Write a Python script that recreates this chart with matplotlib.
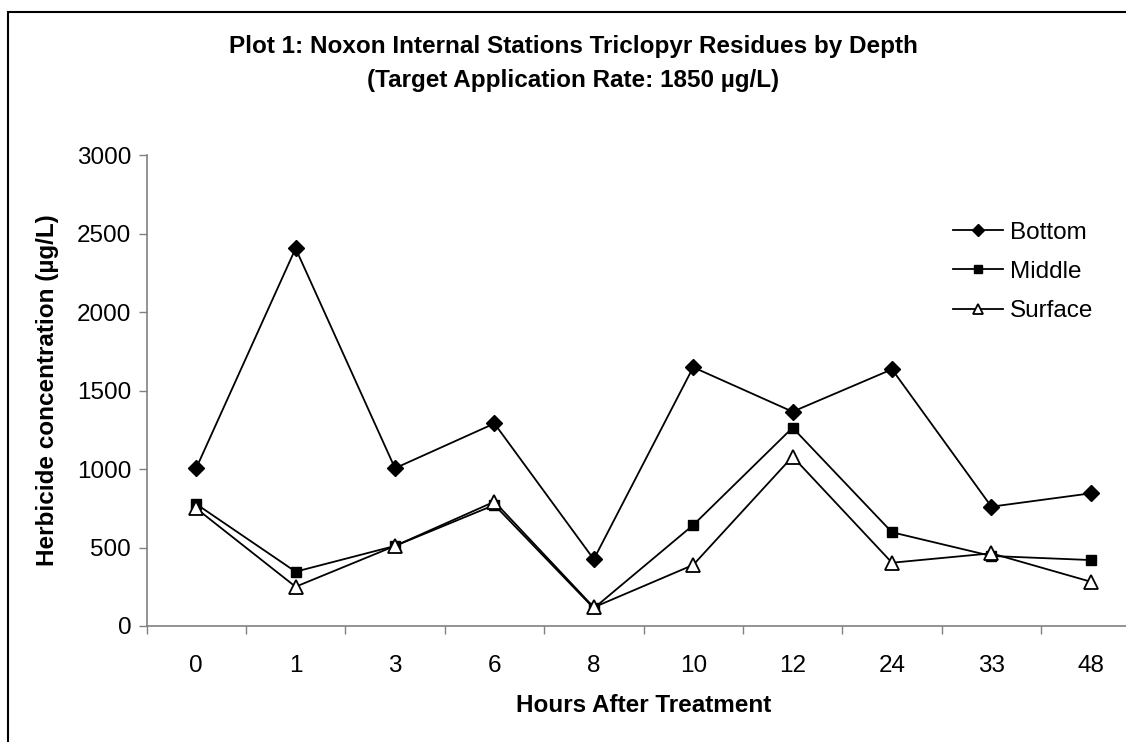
import matplotlib
matplotlib.use("Agg")
import matplotlib.pyplot as plt
import matplotlib.patches as patches
import numpy as np

# data
hours = ["0", "1", "3", "6", "8", "10", "12", "24", "33", "48"]
bottom = [1005, 2405, 1005, 1290, 425, 1648, 1365, 1635, 760, 845]
middle = [777, 346, 510, 771, 113, 643, 1263, 597, 446, 420]
surface = [749, 250, 510, 792, 119, 389, 1079, 403, 463, 282]
yticks = [0, 500, 1000, 1500, 2000, 2500, 3000]

W, H = 1126, 742
plt.rcParams["font.family"] = ["Liberation Sans", "DejaVu Sans"]
FS = 17.5

fig = plt.figure(figsize=(W / 100, H / 100), dpi=100)

# plot area runs past the right edge, like the cropped original
left, right, top, bot = 146.5, 1140.5, 155, 626
ax = fig.add_axes([left / W, 1 - bot / H, (right - left) / W, (bot - top) / H])

x = np.arange(len(hours))
ax.plot(x, bottom, color="black", lw=1.3, marker="D", ms=8,
        mfc="black", mec="black", label="Bottom", clip_on=False)
ax.plot(x, middle, color="black", lw=1.3, marker="s", ms=7.5,
        mfc="black", mec="black", label="Middle", clip_on=False)
ax.plot(x, surface, color="black", lw=1.3, marker="^", ms=9.5,
        mfc="white", mec="black", mew=1.3, label="Surface", clip_on=False)

ax.set_xlim(-0.5, len(hours) - 0.5)
ax.set_ylim(0, 3000)
ax.set_yticks(yticks)
ax.set_xticks(x)
ax.set_xticklabels(hours)
ax.set_xticks(np.arange(-0.5, len(hours) + 0.5, 1), minor=True)

for s in ["top", "right"]:
    ax.spines[s].set_visible(False)
for s in ["left", "bottom"]:
    ax.spines[s].set_color("#808080")
    ax.spines[s].set_linewidth(1.2)

ax.tick_params(axis="y", direction="out", length=6, width=1, color="#808080",
               labelsize=FS, pad=5)
ax.tick_params(axis="x", which="major", length=0, labelsize=FS, pad=21)
ax.tick_params(axis="x", which="minor", direction="out", length=6, width=1,
               color="#808080")

ax.set_ylabel("Herbicide concentration (µg/L)", fontsize=FS,
              fontweight="bold")
ax.yaxis.set_label_coords((48 - left) / (right - left), 0.5)
ax.set_xlabel("Hours After Treatment", fontsize=FS, fontweight="bold")
ax.xaxis.set_label_coords(0.5, -(705 - bot) / (bot - top))
ax.xaxis.label.set_va("center")
ax.yaxis.label.set_va("center")

fig.text(573 / W, 1 - 47 / H,
         "Plot 1: Noxon Internal Stations Triclopyr Residues by Depth",
         ha="center", va="center", fontsize=FS, fontweight="bold")
fig.text(573 / W, 1 - 80 / H, "(Target Application Rate: 1850 µg/L)",
         ha="center", va="center", fontsize=FS, fontweight="bold")

ax.legend(loc="center left", bbox_to_anchor=(953 / W, 1 - 272 / H),
          bbox_transform=fig.transFigure, frameon=False, fontsize=FS,
          handlelength=2.05, handletextpad=0.3, labelspacing=0.7,
          borderpad=0, borderaxespad=0, markerscale=0.8)

# outer chart frame (top and left edges are visible in the crop)
frame = patches.Rectangle((8 / W, -0.2), 1.5, 1 - 12 / H + 0.2,
                          transform=fig.transFigure, fill=False,
                          edgecolor="black", linewidth=1.5)
fig.add_artist(frame)

fig.savefig("out.png", dpi=100)
